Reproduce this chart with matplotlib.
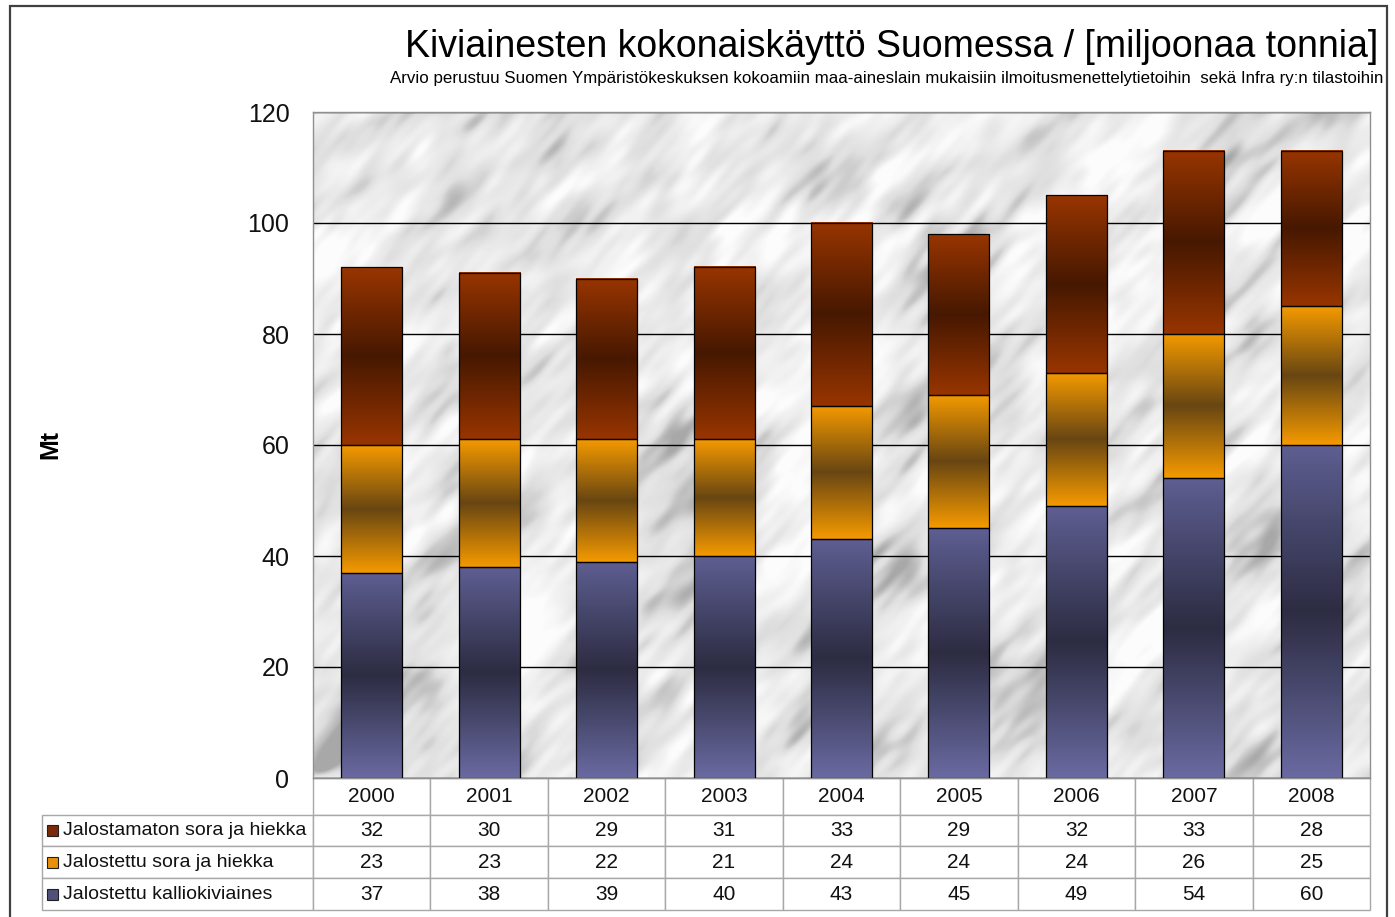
import matplotlib
matplotlib.use("Agg")
import matplotlib.pyplot as plt
import numpy as np
from matplotlib.colors import LinearSegmentedColormap
from matplotlib.patches import Rectangle
from matplotlib.table import Table

plt.rcParams['font.family'] = ['Liberation Sans', 'DejaVu Sans']

# data
years = ['2000', '2001', '2002', '2003', '2004', '2005', '2006', '2007', '2008']
kallio = [37, 38, 39, 40, 43, 45, 49, 54, 60]
jalostettu_sora = [23, 23, 22, 21, 24, 24, 24, 26, 25]
jalostamaton_sora = [32, 30, 29, 31, 33, 29, 32, 33, 28]

series_names = ['Jalostamaton sora ja hiekka', 'Jalostettu sora ja hiekka',
                'Jalostettu kalliokiviaines']
yticks = [0, 20, 40, 60, 80, 100, 120]

title = 'Kiviainesten kokonaiskäyttö Suomessa / [miljoonaa tonnia]'
subtitle = ('Arvio perustuu Suomen Ympäristökeskuksen kokoamiin maa-aineslain '
            'mukaisiin ilmoitusmenettelytietoihin  sekä Infra ry:n tilastoihin')

# gradient colormaps (bottom -> dark middle -> top)
cm_blue = LinearSegmentedColormap.from_list('b', ['#6a6aa2', '#2c2c42', '#5e5e92'])
cm_orange = LinearSegmentedColormap.from_list('o', ['#f59a00', '#684612', '#f59a00'])
cm_brown = LinearSegmentedColormap.from_list('r', ['#983500', '#461800', '#983500'])
legend_cols = ['#7a2a08', '#e8900a', '#50507a']

W, H = 1395, 917
fig = plt.figure(figsize=(W / 100, H / 100), dpi=100)
fig.patch.set_facecolor('white')

# outer frame
fig.add_artist(Rectangle((10 / W, -0.05), (1387 - 10) / W, 1 - 6 / H + 0.05,
                         transform=fig.transFigure, fill=False,
                         edgecolor='#404040', lw=1.6))

ax = fig.add_axes([313 / W, 139 / H, 1057 / W, 666 / H])

# marble-like background texture, sum of sine waves stretched along "/"
th, tw = 666, 1057
yy, xx = np.mgrid[0:1:th * 1j, 0:tw / th:tw * 1j]
u = (xx - yy) / np.sqrt(2)   # across the streaks
v = (xx + yy) / np.sqrt(2)   # along the streaks
warp = (0.8 * np.sin(2 * np.pi * (1.3 * xx + 0.9 * yy) + 0.4)
        + 0.6 * np.sin(2 * np.pi * (2.1 * yy - 1.7 * xx) + 1.9)
        + 0.4 * np.sin(2 * np.pi * (3.7 * xx + 2.9 * yy) + 2.7))
field = np.zeros_like(xx)
for k in range(1, 140):
    phi = (k * 0.6180339) % 1 * 2 * np.pi
    a = (k * 0.3819660 + 0.13) % 1 * 2 * np.pi
    fk = 5 * 12 ** ((k * 0.7548777) % 1)
    ku, kv = fk * np.cos(a), 0.3 * fk * np.sin(a)
    field += np.sin(2 * np.pi * (ku * u + kv * v) + phi + warp) * fk ** -0.5
field = (field - field.mean()) / field.std()
tex = 0.91 - 0.045 * field - 0.06 * np.clip(field - 0.9, 0, None)
tex = np.clip(tex, 0.66, 0.985)
ax.imshow(tex, cmap='gray', vmin=0, vmax=1, extent=(-0.5, len(years) - 0.5, 0, 120),
          aspect='auto', zorder=0, interpolation='bilinear', origin='lower')

x = np.arange(len(years))
grad = np.linspace(0, 1, 256).reshape(-1, 1)
bottom = np.zeros(len(years))
for vals, cmap in [(kallio, cm_blue), (jalostettu_sora, cm_orange),
                   (jalostamaton_sora, cm_brown)]:
    bars = ax.bar(x, vals, 0.52, bottom=bottom, facecolor='none',
                  edgecolor='black', lw=0.9, zorder=3)
    for r in bars:
        x0, y0 = r.get_x(), r.get_y()
        ax.imshow(grad, cmap=cmap, origin='lower', aspect='auto', zorder=2,
                  extent=(x0, x0 + r.get_width(), y0, y0 + r.get_height()))
    bottom = bottom + np.array(vals)

ax.set_xlim(-0.5, len(years) - 0.5)
ax.set_ylim(0, 120)
ax.set_yticks(yticks)
ax.set_xticks([])
ax.yaxis.grid(True, color='black', lw=1)
ax.set_axisbelow(True)
ax.tick_params(axis='y', length=0, labelsize=18, pad=17, labelcolor='#111111')
for s in ax.spines.values():
    s.set_color('#909090')
    s.set_linewidth(1)

# data table
rows = [jalostamaton_sora, jalostettu_sora, kallio]
tb = Table(ax, bbox=[(42 - 313) / 1057, -(910 - 778) / 666, 1328 / 1057, 132 / 666])
lw_label, lw_col = 271, 1057 / len(years)
for j, yr in enumerate(years):
    tb.add_cell(0, j + 1, lw_col, 37, text=yr, loc='center')
for i, (name, vals) in enumerate(zip(series_names, rows)):
    c = tb.add_cell(i + 1, 0, lw_label, 32, text=name, loc='left')
    c.PAD = 21 / 271
    for j, v in enumerate(vals):
        tb.add_cell(i + 1, j + 1, lw_col, 32, text=str(v), loc='center')
tb.auto_set_font_size(False)
tb.set_fontsize(14)
for (r, cidx), cell in tb.get_celld().items():
    cell.set_edgecolor('#a8a8a8')
    cell.set_linewidth(1)
    cell.get_text().set_color('#111111')
    if cidx > 0:
        cell.get_text().set_fontsize(15)
ax.add_table(tb)

# legend squares in the table row labels
for i, col in enumerate(legend_cols):
    yc = 815 + 32 * i + 16
    fig.add_artist(Rectangle((47 / W, 1 - (yc + 5) / H), 11 / W, 11 / H,
                             transform=fig.transFigure, facecolor=col,
                             edgecolor='#202020', lw=0.8))

fig.text(1378 / W, 1 - 47 / H, title, ha='right', va='center', fontsize=27)
fig.text(1383 / W, 1 - 79 / H, subtitle, ha='right', va='center', fontsize=12.15)
fig.text(50 / W, 1 - 445 / H, 'Mt', rotation=90, fontweight='bold', fontsize=18,
         ha='center', va='center')

fig.savefig('out.png', dpi=100)
